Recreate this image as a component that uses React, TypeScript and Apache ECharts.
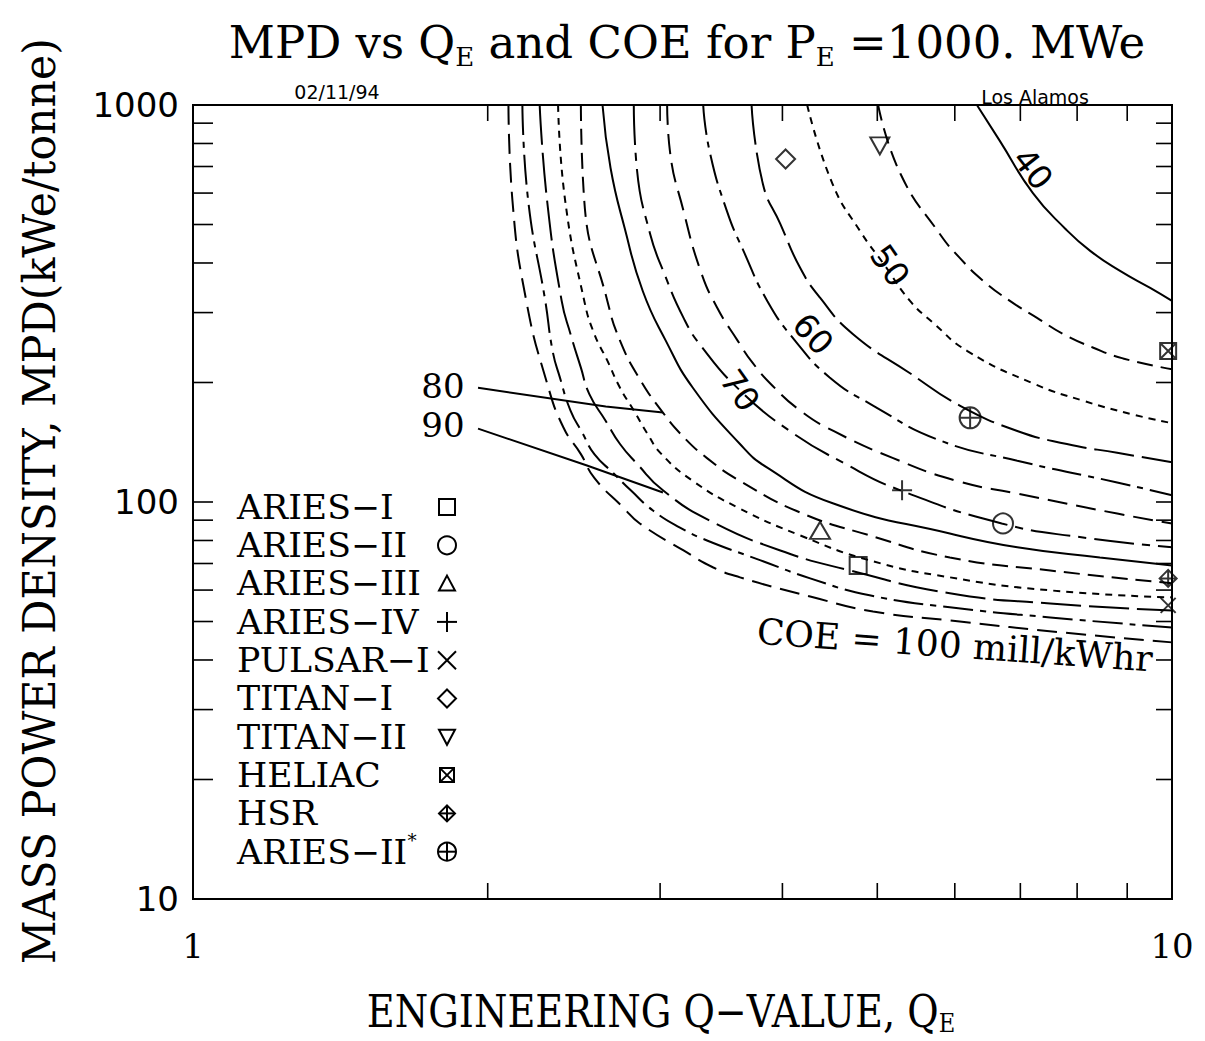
import React, { useEffect, useRef } from 'react';
import * as echarts from 'echarts';

const W = 1205;
const H = 1041;

// COE contour levels (mill/kWhr) and their curves [Q_E, MPD]
const COE_LEVELS = [40, 45, 50, 55, 60, 65, 70, 75, 80, 85, 90, 95, 100];
const C40 = [[6.32, 1000], [6.67, 812], [7.21, 600], [7.78, 488], [8.25, 429], [8.85, 382], [9.5, 346], [10, 321]];
const C45 = [[5.01, 1000], [5.28, 671], [5.79, 474], [6.07, 412], [6.41, 361], [6.83, 321], [7.28, 291], [7.74, 265], [8.3, 245], [8.91, 230], [10, 216]];
const C50 = [[4.24, 1000], [4.5, 633], [4.8, 482], [5.09, 394], [5.4, 321], [5.7, 283], [6.18, 240], [7.21, 199], [8.11, 180], [9.13, 166], [10, 158]];
const C55 = [[3.72, 1000], [3.82, 633], [3.98, 502], [4.17, 389], [4.37, 327], [4.72, 265], [5.4, 211], [6.07, 175], [6.95, 151], [7.81, 140], [8.79, 133], [10, 126]];
const C60 = [[3.32, 1000], [3.37, 766], [3.51, 541], [3.65, 429], [3.86, 321], [4.12, 255], [4.47, 206], [4.95, 175], [5.79, 143], [6.95, 127], [8.79, 112], [10, 104]];
const C65 = [[3.05, 1000], [3.07, 766], [3.17, 541], [3.3, 382], [3.43, 309], [3.6, 255], [3.73, 224], [3.91, 196], [4.17, 170], [4.51, 151], [5.19, 129], [6.03, 113], [6.95, 105], [8.79, 93.5], [10, 88.3]];
const C70 = [[2.82, 1000], [2.84, 694], [2.93, 474], [3.03, 376], [3.17, 291], [3.3, 248], [3.62, 191], [4.07, 151], [4.63, 125], [5.28, 107], [6.7, 88.3], [8.11, 81.4], [10, 76.9]];
const C75 = [[2.62, 1000], [2.67, 694], [2.76, 490], [2.88, 340], [3.04, 255], [3.24, 194], [3.62, 140], [3.86, 122], [4.51, 99.1], [5.93, 83.3], [6.95, 76.9], [8.44, 72.5], [10, 69.2]];
const C80 = [[2.49, 1000], [2.51, 573], [2.65, 321], [2.73, 255], [2.86, 204], [3.02, 168], [3.16, 147], [3.35, 129], [3.62, 113], [4.17, 94.1], [4.91, 82.4], [5.93, 72.5], [7.51, 67.2], [10, 62.4]];
const C85 = [[2.36, 1000], [2.4, 573], [2.51, 321], [2.57, 265], [2.65, 227], [2.73, 194], [2.82, 170], [2.91, 149], [3.01, 132], [3.24, 113], [3.6, 96.9], [4.17, 82.4], [4.91, 71.3], [5.93, 64.6], [7.51, 59.9], [10, 57.5]];
const C90 = [[2.26, 1000], [2.3, 573], [2.38, 321], [2.43, 265], [2.49, 218], [2.54, 187], [2.64, 160], [2.73, 140], [2.84, 125], [3.02, 107], [3.37, 89.8], [3.98, 75.5], [4.69, 67.2], [5.93, 58.9], [7.51, 55.5], [10, 53.3]];
const C95 = [[2.17, 1000], [2.2, 573], [2.29, 321], [2.33, 240], [2.37, 206], [2.43, 170], [2.5, 149], [2.57, 132], [2.69, 118], [2.8, 107], [2.95, 95.2], [3.14, 86.3], [3.35, 80.0], [3.8, 71.3], [4.27, 64.2], [4.91, 58.2], [5.93, 54.3], [7.51, 51.2], [10, 48.3]];
const C100 = [[2.1, 1000], [2.12, 573], [2.19, 321], [2.3, 199], [2.39, 154], [2.49, 132], [2.57, 115], [2.75, 96.9], [2.86, 88.3], [3.17, 75.5], [3.4, 68.4], [3.62, 64.6], [4.27, 57.8], [4.95, 53.0], [6.07, 50.0], [7.68, 47.0], [10, 44.3]];
const CURVES = [C40, C45, C50, C55, C60, C65, C70, C75, C80, C85, C90, C95, C100];

// Design points [Q_E, MPD]
const ARIES_I = [[4.78, 69.2]];
const ARIES_II = [[6.72, 88.3]];
const ARIES_III = [[4.37, 84.8]];
const ARIES_IV = [[5.3, 107]];
const PULSAR_I = [[9.91, 54.9]];
const TITAN_I = [[4.03, 731]];
const TITAN_II = [[5.03, 789]];
const HELIAC = [[9.91, 240]];
const HSR = [[9.91, 64.2]];
const ARIES_II_STAR = [[6.22, 163]];

const LEGEND_NAMES = ['ARIES\u2212I', 'ARIES\u2212II', 'ARIES\u2212III', 'ARIES\u2212IV', 'PULSAR\u2212I', 'TITAN\u2212I', 'TITAN\u2212II', 'HELIAC', 'HSR', 'ARIES\u2212II'];
const X_TICKS = [1, 2, 3, 4, 5, 6, 7, 8, 9, 10];
const Y_TICKS = [10, 20, 30, 40, 50, 60, 70, 80, 90, 100, 200, 300, 400, 500, 600, 700, 800, 900, 1000];

const SERIF = '"DejaVu Serif", "Liberation Serif", serif';
const SANS = '"DejaVu Sans", "Noto Sans", sans-serif';

const DASHES: any[] = [
  'solid', [16, 8], [7, 6], [40, 8], [30, 7, 6, 7], [20, 9], [40, 8, 8, 8],
  'solid', [16, 8], [7, 6], [40, 8], [30, 7, 6, 7], [20, 9],
];

const KINDS = ['square', 'circle', 'tri', 'plus', 'cross', 'diamond', 'triDown', 'boxX', 'diamondPlus', 'circlePlus'];
const SYMBOLS: Record<string, string> = {
  square: 'rect',
  circle: 'circle',
  tri: 'triangle',
  plus: 'path://M5,0L5,10M0,5L10,5',
  cross: 'path://M0,0L10,10M10,0L0,10',
  diamond: 'diamond',
  triDown: 'path://M0,0L10,0L5,10Z',
  boxX: 'path://M0,0L10,0L10,10L0,10ZM0,0L10,10M10,0L0,10',
  diamondPlus: 'path://M5,0L10,5L5,10L0,5ZM5,0L5,10M0,5L10,5',
  circlePlus: 'path://M10,5A5,5,0,1,1,0,5A5,5,0,1,1,10,5ZM5,0L5,10M0,5L10,5',
};
const SIZES: Record<string, any> = {
  square: 17, circle: 20, tri: [20, 17], plus: 20, cross: 15, diamond: 19, triDown: [19, 17], boxX: 16, diamondPlus: 17, circlePlus: 21,
};
const POINTS = [ARIES_I, ARIES_II, ARIES_III, ARIES_IV, PULSAR_I, TITAN_I, TITAN_II, HELIAC, HSR, ARIES_II_STAR];

const stroke = { stroke: '#000', lineWidth: 2, fill: 'none' };

function legendSymbol(kind: string, cx: number, cy: number): any[] {
  const s = 16;
  const h = s / 2;
  const ln = (x1: number, y1: number, x2: number, y2: number) => ({ type: 'line', silent: true, shape: { x1, y1, x2, y2 }, style: { ...stroke } });
  switch (kind) {
    case 'square':
      return [{ type: 'rect', silent: true, shape: { x: cx - h, y: cy - h, width: s, height: s }, style: { ...stroke } }];
    case 'circle':
      return [{ type: 'circle', silent: true, shape: { cx, cy, r: h + 1 }, style: { ...stroke } }];
    case 'tri':
      return [{ type: 'polygon', silent: true, shape: { points: [[cx, cy - 8], [cx + 8, cy + 7], [cx - 8, cy + 7]] }, style: { ...stroke } }];
    case 'plus':
      return [ln(cx, cy - 10, cx, cy + 10), ln(cx - 10, cy, cx + 10, cy)];
    case 'cross':
      return [ln(cx - 9, cy - 9, cx + 9, cy + 9), ln(cx + 9, cy - 9, cx - 9, cy + 9)];
    case 'diamond':
      return [{ type: 'polygon', silent: true, shape: { points: [[cx, cy - 9], [cx + 9, cy], [cx, cy + 9], [cx - 9, cy]] }, style: { ...stroke } }];
    case 'triDown':
      return [{ type: 'polygon', silent: true, shape: { points: [[cx - 8, cy - 7], [cx + 8, cy - 7], [cx, cy + 8]] }, style: { ...stroke } }];
    case 'boxX':
      return [
        { type: 'rect', silent: true, shape: { x: cx - 7, y: cy - 7, width: 14, height: 14 }, style: { ...stroke } },
        ln(cx - 7, cy - 7, cx + 7, cy + 7), ln(cx + 7, cy - 7, cx - 7, cy + 7),
      ];
    case 'diamondPlus':
      return [
        { type: 'polygon', silent: true, shape: { points: [[cx, cy - 8], [cx + 8, cy], [cx, cy + 8], [cx - 8, cy]] }, style: { ...stroke } },
        ln(cx, cy - 8, cx, cy + 8), ln(cx - 8, cy, cx + 8, cy),
      ];
    case 'circlePlus':
      return [
        { type: 'circle', silent: true, shape: { cx, cy, r: 9 }, style: { ...stroke } },
        ln(cx, cy - 9, cx, cy + 9), ln(cx - 9, cy, cx + 9, cy),
      ];
  }
  return [];
}

function txt(text: string, x: number, y: number, size: number, family: string, opts: any = {}) {
  return {
    type: 'text', silent: true, x, y,
    rotation: opts.rotation || 0,
    scaleX: opts.scaleX || 1,
    scaleY: opts.scaleY || 1,
    style: {
      text, fill: '#000', fontSize: size, fontFamily: family,
      align: opts.align || 'center', textAlign: opts.align || 'center',
      verticalAlign: 'middle', textVerticalAlign: 'middle',
      backgroundColor: opts.bg, padding: opts.bg ? [0, 2] : undefined,
      rich: opts.rich,
    },
  };
}

export default function App() {
  const ref = useRef<HTMLDivElement>(null);

  useEffect(() => {
    if (!ref.current) return;
    const chart = echarts.init(ref.current, null, { renderer: 'svg' });

    const lineSeries = CURVES.map((c, i) => ({
      type: 'line',
      name: 'COE ' + COE_LEVELS[i],
      data: c,
      smooth: 0.5,
      showSymbol: false,
      symbol: 'none',
      silent: true,
      lineStyle: { color: '#000', width: 2, type: DASHES[i] },
      z: 2,
    }));

    const scatterSeries = POINTS.map((p, i) => ({
      type: 'scatter',
      name: LEGEND_NAMES[i],
      data: p,
      symbol: SYMBOLS[KINDS[i]],
      symbolSize: SIZES[KINDS[i]],
      itemStyle: { color: 'rgba(0,0,0,0)', borderColor: '#000', borderWidth: 2 },
      silent: true,
      z: 4,
    }));

    chart.setOption({
      animation: false,
      backgroundColor: '#fff',
      grid: { left: 193, right: 33, top: 105, bottom: 142, show: true, borderColor: '#000', borderWidth: 2, backgroundColor: 'transparent' },
      xAxis: {
        type: 'log', logBase: 10, min: 1, max: 10,
        axisLine: { show: false }, axisTick: { show: false }, splitLine: { show: false }, minorTick: { show: false },
        axisLabel: { color: '#000', fontFamily: SERIF, fontSize: 34, margin: 30, formatter: (v: number) => String(Math.round(v)) },
      },
      yAxis: {
        type: 'log', logBase: 10, min: 10, max: 1000,
        axisLine: { show: false }, axisTick: { show: false }, splitLine: { show: false }, minorTick: { show: false },
        axisLabel: { color: '#000', fontFamily: SANS, fontSize: 34, margin: 14, formatter: (v: number) => String(Math.round(v)) },
      },
      series: [...lineSeries, ...scatterSeries],
    });

    const px = (q: number) => chart.convertToPixel({ xAxisIndex: 0 }, q) as number;
    const py = (m: number) => chart.convertToPixel({ yAxisIndex: 0 }, m) as number;
    const L = px(1), R = px(10), T = py(1000), B = py(10);
    const TL = 16;
    const g: any[] = [];
    const tickStyle = { stroke: '#000', lineWidth: 1.6 };
    X_TICKS.slice(1, -1).forEach((v) => {
      const x = px(v);
      g.push({ type: 'line', silent: true, shape: { x1: x, y1: B, x2: x, y2: B - TL }, style: tickStyle });
      g.push({ type: 'line', silent: true, shape: { x1: x, y1: T, x2: x, y2: T + TL }, style: tickStyle });
    });
    Y_TICKS.slice(1, -1).forEach((v) => {
      const y = py(v);
      g.push({ type: 'line', silent: true, shape: { x1: L, y1: y, x2: L + TL + 4, y2: y }, style: tickStyle });
      g.push({ type: 'line', silent: true, shape: { x1: R, y1: y, x2: R - TL, y2: y }, style: tickStyle });
    });

    // Titles
    g.push(txt('{a|MPD vs Q}{b|E}{a| and COE for P}{b|E}{a| =1000. MWe}', 687, 42, 45, SERIF, {
      scaleX: 1.0,
      rich: {
        a: { fontSize: 45, fontFamily: SERIF, fill: '#000', lineHeight: 56 },
        b: { fontSize: 26, fontFamily: SERIF, fill: '#000', lineHeight: 26, verticalAlign: 'bottom' },
      },
    }));
    g.push(txt('{a|ENGINEERING Q\u2212VALUE, Q}{b|E}', 661, 1012, 44, SERIF, {
      scaleX: 0.87,
      rich: {
        a: { fontSize: 44, fontFamily: SERIF, fill: '#000', lineHeight: 48 },
        b: { fontSize: 26, fontFamily: SERIF, fill: '#000', lineHeight: 30, verticalAlign: 'bottom' },
      },
    }));
    g.push(txt('MASS POWER DENSITY, MPD(kWe/tonne)', 40, 501, 44, SERIF, { rotation: Math.PI / 2, scaleX: 0.97 }));
    g.push(txt('02/11/94', 337, 92, 20, SANS, { scaleX: 0.95 }));
    g.push(txt('Los Alamos', 1035, 97, 20, SANS, { scaleX: 0.95 }));

    // Contour labels
    const rot = (d: number) => (d * Math.PI) / 180;
    g.push(txt('40', px(7.21), py(690), 33, SANS, { rotation: rot(-52), bg: '#fff' }));
    g.push(txt('50', px(5.15), py(394), 33, SANS, { rotation: rot(-55), bg: '#fff' }));
    g.push(txt('60', px(4.3), py(265), 33, SANS, { rotation: rot(-48), bg: '#fff' }));
    g.push(txt('70', px(3.62), py(191), 33, SANS, { rotation: rot(-55), bg: '#fff' }));
    g.push(txt('80', px(1.8), py(196), 34, SERIF));
    g.push(txt('90', px(1.8), py(156), 34, SERIF));
    g.push({
      type: 'polyline', silent: true,
      shape: { points: [[px(1.955), py(194)], [px(2.64), py(174)], [px(3.02), py(168)]] },
      style: { stroke: '#000', lineWidth: 2, fill: 'none' },
    });
    g.push({
      type: 'polyline', silent: true,
      shape: { points: [[px(1.955), py(153)], [px(2.526), py(123.6)], [px(3.02), py(105.7)]] },
      style: { stroke: '#000', lineWidth: 2, fill: 'none' },
    });
    g.push(txt('COE = 100 mill/kWhr', px(6.0), py(43.6), 36, SERIF, { rotation: rot(-4), scaleX: 1.0 }));

    // Legend
    LEGEND_NAMES.forEach((name, i) => {
      const y = 507 + i * 38.3;
      if (i === LEGEND_NAMES.length - 1) {
        g.push(txt('{a|' + name + '}{s|*}', 237, y, 34, SERIF, {
          align: 'left', scaleX: 1.02,
          rich: {
            a: { fontSize: 34, fontFamily: SERIF, fill: '#000', lineHeight: 40 },
            s: { fontSize: 18, fontFamily: SERIF, fill: '#000', lineHeight: 40, verticalAlign: 'top' },
          },
        }));
      } else {
        g.push(txt(name, 237, y, 34, SERIF, { align: 'left', scaleX: 1.02 }));
      }
      legendSymbol(KINDS[i], 447, y).forEach((e) => g.push(e));
    });

    chart.setOption({ graphic: g });

    return () => chart.dispose();
  }, []);

  return <div ref={ref} style={{ position: 'fixed', left: 0, top: 0, width: W, height: H, background: '#fff' }} />;
}
